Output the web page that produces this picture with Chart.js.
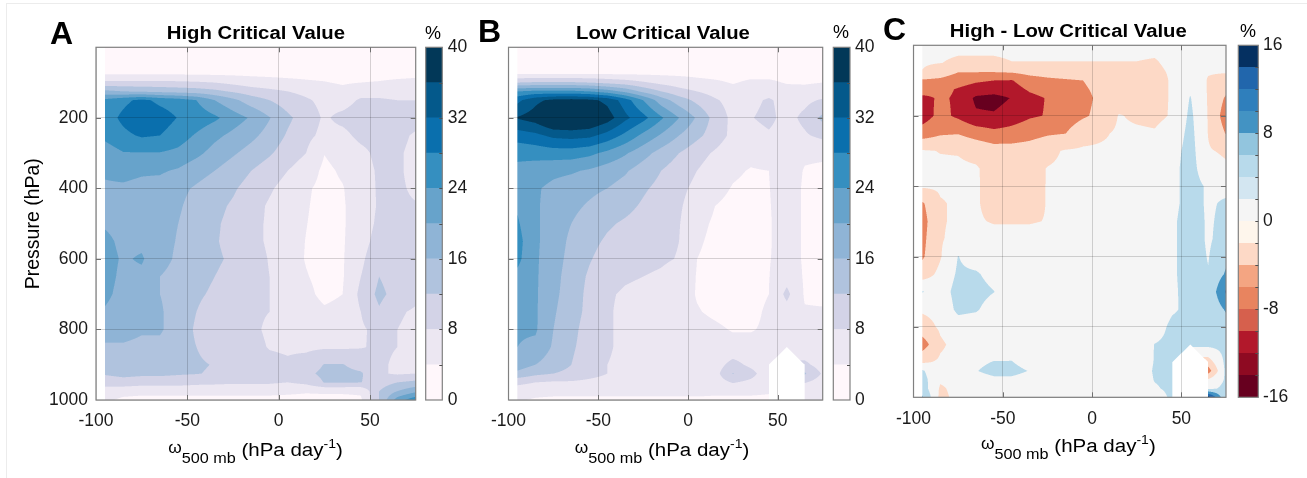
<!DOCTYPE html>
<html><head><meta charset="utf-8">
<script src="https://cdn.jsdelivr.net/npm/chart.js@4.4.1/dist/chart.umd.min.js"></script>
<style>
html,body{margin:0;padding:0;background:#fff;}
#page{position:relative;width:1307px;height:478px;overflow:hidden;background:#fff;}
canvas{position:absolute;top:0;}
#frame{position:absolute;left:6px;top:3px;right:-2px;bottom:-2px;border-left:1px solid #ececec;border-top:1px solid #ececec;}
svg{position:absolute;left:0;top:0;pointer-events:none;}
</style></head>
<body><div id="page">
<div id="frame"></div>
<canvas id="mainA" width="420" height="478" style="left:0px"></canvas>
<canvas id="barA" width="60" height="478" style="left:420px"></canvas>
<canvas id="mainB" width="346" height="478" style="left:480px"></canvas>
<canvas id="barB" width="60" height="478" style="left:826px"></canvas>
<canvas id="mainC" width="345" height="478" style="left:885px"></canvas>
<canvas id="barC" width="77" height="478" style="left:1230px"></canvas>
<svg width="1307" height="478" font-family="'Liberation Sans', Arial, Helvetica, sans-serif" fill="#000">
 <text x="50" y="44" font-size="32" font-weight="bold">A</text>
 <text x="478" y="42" font-size="32" font-weight="bold">B</text>
 <text x="883" y="39.5" font-size="32" font-weight="bold">C</text>
 <text transform="translate(255.9,39.3) scale(1.07,1)" text-anchor="middle" font-size="19" font-weight="bold">High Critical Value</text>
 <text transform="translate(663,39.3) scale(1.07,1)" text-anchor="middle" font-size="19" font-weight="bold">Low Critical Value</text>
 <text transform="translate(1068.3,37.3) scale(1.07,1)" text-anchor="middle" font-size="19" font-weight="bold">High - Low Critical Value</text>
 <text x="425" y="38.5" font-size="18">%</text>
 <text x="833" y="38" font-size="18">%</text>
 <text x="1240" y="36.5" font-size="18">%</text>
 <text transform="translate(38.5,223.7) rotate(-90)" text-anchor="middle" font-size="19.5">Pressure (hPa)</text>
 <text transform="translate(255.5,455.7) scale(1.08,1)" text-anchor="middle" font-size="19"><tspan font-size="16" dy="-3">ω</tspan><tspan font-size="15" dy="10">500 mb</tspan><tspan dy="-7"> (hPa day</tspan><tspan font-size="13" dy="-8">-1</tspan><tspan dy="8">)</tspan></text>
 <text transform="translate(662,455.7) scale(1.08,1)" text-anchor="middle" font-size="19"><tspan font-size="16" dy="-3">ω</tspan><tspan font-size="15" dy="10">500 mb</tspan><tspan dy="-7"> (hPa day</tspan><tspan font-size="13" dy="-8">-1</tspan><tspan dy="8">)</tspan></text>
 <text transform="translate(1068.4,451.7) scale(1.08,1)" text-anchor="middle" font-size="19"><tspan font-size="16" dy="-3">ω</tspan><tspan font-size="15" dy="10">500 mb</tspan><tspan dy="-7"> (hPa day</tspan><tspan font-size="13" dy="-8">-1</tspan><tspan dy="8">)</tspan></text>
</svg>
</div>
<script>
// ---------------- data ----------------
const omegaBins = [-95,-85,-75,-65,-55,-45,-35,-25,-15,-5,5,15,25,35,45,55,65,75];
const pressureLevels = [1,50,75,100,125,150,200,250,300,350,400,450,500,550,600,650,700,750,800,850,900,925,950,975,1000];
const omegaTicks = [-100,-50,0,50];
const pressureTicks = [200,400,600,800,1000];
const pctTicks = [0,8,16,24,32,40];
const diffTicks = [-16,-8,0,8,16];
const pctBandEdges = [0,4,8,12,16,20,24,28,32,36,40];
const diffBandEdges = [-16,-14,-12,-10,-8,-6,-4,-2,0,2,4,6,8,10,12,14,16];

// High critical value (%), rows = pressureLevels, cols = omegaBins
const highCritical = [
 [1.5,1.5,1.5,1.5,1.5,1.5,1.5,1.5,1.5,1.5,1.5,1.5,1.5,1.5,1.5,1.5,1.5,1.5],
 [2,2,2,2,2,2,2,2,2,2,2,2,2,2,2,2,2,2],
 [3.6,3.6,3.6,3.6,3.6,3.5,3.4,3.3,3.2,3.1,3,3,2.8,2.8,3,3,3.1,3.3],
 [9,9,9,9,8.8,8.5,8,7,6,5.5,5,4.5,4.2,3.6,4,4.2,4.6,4.8],
 [17,16,15.5,15,14.5,14,13,11.5,10,9,8,7,6,5,6.5,6.5,6.2,6.5],
 [25,27,29,27,26,24,20,17,14,12,10,8.5,7,6.5,8.5,8.5,8,8],
 [26,29,31.5,30,27.8,26.5,24.8,22,19.5,16.2,12.8,10,7.5,9,10,10,10,9.5],
 [25,27,28.5,28,26,23.5,21,19,17,14.5,11.5,9,7,7,9,9.5,9,7.5],
 [22,23.8,23.8,23.8,23,21,18.5,16.5,14.5,12.5,10,8,4.1,5.5,7,9,8.5,7],
 [20.5,21,20.5,20.5,19.5,17.5,16,14,12,10,8,6,3.2,4.5,6.5,8.5,8.5,7],
 [19.5,19.5,19,18.5,17,15.5,14,12.5,10.5,8.5,6.5,4.5,3,3.8,6,8.5,8.5,7.5],
 [19,18.5,18.5,17.5,16.5,14.5,13,11.5,9.5,7.5,6,4.3,2.8,3.7,5.5,8.5,8.5,8.2],
 [19.5,18.5,18.5,17,16,14,12.5,11,9,7.5,5.5,4.1,2.7,3.7,5.5,9,9,8.5],
 [21,19,19,17,15.8,13.5,12.3,11,9,7.5,5.5,3.9,2.7,3.7,6,10,9.5,9],
 [21.5,19.5,20.5,17,15.5,13.5,12.5,11.5,9.5,7.8,5.5,3.8,2.8,3.7,7,11.5,9.5,9.5],
 [21.5,19,19,16,15,13,12,11,9.5,8,6,4.2,3,3.7,8,12,10,9.5],
 [21,18.5,18,16,14.5,12.5,11.5,10.5,9,8,6.5,4.8,3.2,4,9,13,10.5,9],
 [19.5,18,17.5,16.5,14,12,10.5,9.5,8.5,8,7,5.5,4.5,5,8,11.5,8.5,7.5],
 [17.5,17.5,16.5,16.5,14,11.5,10,9,8.6,7.5,6.5,6.2,6,6.5,7.5,9,8,7],
 [15.5,15.5,15,15,13.5,12,10.5,9.5,9,7.8,7.5,7.3,7.5,7.5,7.8,8.5,8,7],
 [13.5,14.5,14,14,13,12.5,11.8,10.5,9.5,9,8.5,9.5,12.2,12.2,10.5,8.5,7.5,6.5],
 [12.5,13.5,13,13,12.5,12.2,11.5,10.5,9.5,9,8.5,11,13,13,12.5,8.5,7.5,8],
 [9.5,10,9.5,9.5,9.5,9,8.8,8.5,8.5,8.5,8,9,12.2,12.2,12.1,10,12,13],
 [6.5,5.8,5.5,5.5,5.5,5.5,5.5,5.5,5.5,5.5,5,4.5,4.5,4.5,4.5,12,16,19],
 [5,3,2.5,2.5,2.5,2.5,2.5,2.5,2.5,2.5,2.5,2.5,3,3,3.5,12,22,27]
];

// Low critical value (%), null = no data
const lowCritical = [
 [1.5,1.5,1.5,1.5,1.5,1.5,1.5,1.5,1.5,1.5,1.5,1.5,1.5,1.5,1.5,1.5,1.5,1.5],
 [2,2,2,2,2,2,2,2,2,2,2,2,2,2,2,2,2,2],
 [3.8,3.8,3.8,3.8,3.8,3.7,3.6,3.5,3.4,3.3,3.2,3,3,3.2,3.2,3,3,3],
 [12,12.5,12.5,12.5,12,11,10,8.5,7,6,5,4.5,3.8,4.5,4.5,3.8,3.7,4],
 [24,25,25,25,24,22,19,15,12,9.5,8,6.5,5,5.5,6.5,5,5,5.5],
 [31,35,37,37.5,37,35,30,24,18,14,11,8.5,6.5,7,8.5,6.5,7,8.5],
 [36.3,38,42,42,41,38,33,29.3,24.6,20,15.5,10.5,7,7.8,9,6.6,9,13],
 [30,31,33,33.5,33,30.5,27,23,19.5,16,13,10,7,6.5,7.5,6.3,7.5,9],
 [25,25.5,26,26,25,23,20.5,17.5,14.5,12,9.5,7.5,5.5,4.8,5.5,5.8,4.5,4.5],
 [23,22,21,20.5,19.5,18,16.5,14,12,10,8,6,4.5,3.8,4,5.5,3.8,3.5],
 [23,20.5,19,18,17,16,14.5,12.5,11,9,7,5,3.8,3.3,3.9,5.5,3.6,3.3],
 [23.5,20.5,18.5,17,15.5,14,13,11.5,10,8.5,6,4,3.2,3,3.8,5.5,3.6,3.3],
 [24.5,20.5,18.5,16,14,12.5,11.5,10.5,9.5,8.2,5,3.5,3,2.9,3.7,5.5,3.6,3.3],
 [25.5,20.5,18.5,15,13,11.5,10.5,10,9,8,4.5,3.2,2.8,2.8,3.7,5.5,3.6,3.3],
 [25,20.5,18,14.5,12.3,10.5,9.5,9,8.5,7.8,4,3,2.8,3,3.8,5.5,3.6,3.3],
 [23,20.5,17.5,14,11.5,9.5,8.5,8,7.5,6.5,3.8,3,2.8,3,3.9,6.5,3.6,3.3],
 [22,20.5,17,14,11,8.5,7.5,7,6.5,5.5,3.8,3,2.8,3,4,9,3.6,3.3],
 [21,20.5,16.5,13.5,11,8.5,7,6.5,6,5,4.2,3.5,3,3.2,4.5,6.5,4.3,4.3],
 [20.5,20.5,16,13,10.5,8.5,7,6.5,6,5.5,5,4.5,3.8,3.8,4.5,5,4.5,4.5],
 [20,19,15.5,12.5,10.5,8.5,7,6.5,6,5.8,5.5,5,5,5,5,5,5,4.8],
 [18,16,14,12,10,8,7,6.5,6,6,5.8,6,9.5,7,5,null,9,6],
 [15,13,12,11,9.5,8,7,6.5,6,6,6,6.5,12.2,9.5,5,null,12.5,7.5],
 [9,8,7.5,7.5,7,6.5,6.5,6,6,6,6,6,8.3,7,5.5,null,8.3,6],
 [6,5.5,5.5,5.5,5.5,5.5,5.5,5.5,5.5,5.5,5.5,5,5,5,4.5,null,5,5],
 [4.5,3.5,3,3,3,3,3,3,3,3,3,3,3,3,3,null,4,4.5]
];

// High - Low critical value (%), null = no data
const highMinusLow = [
 [0.5,0.5,0.5,0.5,0.5,0.5,0.5,0.5,0.5,0.5,0.5,0.5,0.5,0.5,0.5,0.5,0.5,0.5],
 [0.3,0.05,-0.35,-0.35,-0.35,-0.05,-0.05,-0.05,-0.05,-0.05,-0.05,-0.05,-0.05,-0.2,0.5,0.5,0.5,0.5],
 [-0.1,-1.5,-3.8,-3.8,-3.8,-3.5,-2.5,-2,-1.5,-1.2,-1,-1,-1,-0.5,0.3,0.8,0.3,0.3],
 [-4.5,-5,-6.5,-7.5,-8,-8.2,-6,-5,-4.5,-4,-2.5,-2,-1.5,-1,0.3,3,-0.3,-1.5],
 [-6,-7,-8.3,-9.5,-10,-9.5,-7.5,-6.5,-5.5,-4.5,-3,-2.5,-1.5,-1,0.3,3.5,-0.3,-3],
 [-9,-7.5,-8.5,-12.8,-13.5,-11.8,-9,-7.8,-6,-5,-3.2,-2,-1,-1,0.3,4.2,-0.3,-4.5],
 [-10,-6.8,-8.8,-11.4,-11.5,-10,-8.5,-7.8,-6,-4.5,-3,0.2,-0.5,-0.8,0.3,4.8,-0.2,-6],
 [-6,-4.5,-4.2,-5.7,-6.9,-6.5,-5.5,-4.5,-4.1,-1.5,-0.5,0.5,0.5,0.3,1.5,5.2,-0.1,-4.2],
 [0.3,-0.1,-0.2,-1,-2.1,-2.2,-2,-0.8,0.3,0.5,0.5,0.5,0.5,0.8,2.5,5.5,0.3,-0.5],
 [0.5,0.5,0.5,0.3,-1.2,-1.2,-1,0.1,0.5,0.5,0.5,0.5,0.5,1,3,5.5,1.5,0.5],
 [0.5,0.5,0.5,0.3,-1,-1,-0.8,0.1,0.5,0.5,0.5,0.5,0.5,1,3,5.5,3.5,3],
 [-4.5,-0.3,0.5,0.3,-1,-1,-0.8,0.1,0.5,0.5,0.5,0.5,0.5,1,3,5.5,3.5,4.5],
 [-5.5,-0.3,0.5,0.3,-0.2,-0.2,-0.2,0.1,0.5,0.5,0.5,0.5,0.5,1,3.3,6,3.5,5],
 [-5,-0.3,1,1,1,1,1,1,1,1,1,1,1,1,3.3,6,3.5,5.5],
 [-4.5,-0.3,4.1,2,1.5,1,1,1,1,1,1,1,1,1,3.3,6,3.8,7],
 [-2,1,4.6,4.5,2.5,1,1,1,1,1,1,1,1,1,3.3,6,4.2,8.5],
 [4.2,2,5.5,5.5,4.1,1.5,1,1,1,1,1,1,1,1,3.3,5.5,4.5,12.5],
 [0.5,1,5,4.5,2,1,1,1,1,1,1,1,1,1.5,3.5,5,4.5,8.5],
 [-1.5,0.5,2,1.5,1,1,1,1,1,1,1,1,1,2,5,5,5,6],
 [-6,-0.5,1,1,1,1.5,1,1,1,1,1,1,1,4.1,5,5,5,5],
 [-0.5,0.5,1,3,4.2,4.2,2,1,1,1,1,1,1,4.2,5,null,-2,5],
 [4.5,0.5,1,3.8,5.5,5.5,3.8,1,1,1,1,1,1,4.5,5,null,-6,5],
 [5.5,0.5,1,2,3,3,2,1,1,1,1,1,1,4.2,5,null,0.5,4.5],
 [6,-0.5,1,1,1,1,1,1,1,1,1,1,1,3.5,5,null,3,5],
 [8.5,-1,1,1,1,1,1,1,1,1,1,1,1,1.5,5,null,18,4]
];

// colour maps
const pctColors = ['#fff7fb','#ece7f2','#d3d3e7','#b0c3de','#8fb4d6','#67a3cb','#358fc0','#0a6fad','#04598b','#023858'];
const diffColors = ['#67001f','#8e0a22','#b2182b','#d6604d','#e8845f','#f4a582','#fdd9c6','#fef6ec','#f5f5f5','#d3e6f1','#b8daeb','#92c5de','#4393c3','#2f7fbc','#2166ac','#053061'];

// ---------------- rendering ----------------
const FONT = "'Liberation Sans', Arial, Helvetica, sans-serif";
Chart.defaults.font.family = FONT;
const tickFont = {family: FONT, size: 17.5};
const tickColor = '#1a1a1a';
const gridColor = 'rgba(0,0,0,0.16)';

function hexToRgb(h){ return [parseInt(h.slice(1,3),16), parseInt(h.slice(3,5),16), parseInt(h.slice(5,7),16)]; }

function makeSampler(grid, spec){
  const nx = omegaBins.length, ny = pressureLevels.length;
  const rgb = spec.colors.map(hexToRgb);
  const n = spec.colors.length;
  const isNum = v => v !== null && v !== undefined;
  return function(w, p){
    if (w < omegaBins[0]) return null;
    if (w > omegaBins[nx-1]) w = omegaBins[nx-1];
    if (p < pressureLevels[0]) p = pressureLevels[0];
    if (p > pressureLevels[ny-1]) p = pressureLevels[ny-1];
    let i = 0; while (i < nx-2 && omegaBins[i+1] <= w) i++;
    let j = 0; while (j < ny-2 && pressureLevels[j+1] <= p) j++;
    const fx = (w - omegaBins[i])/(omegaBins[i+1]-omegaBins[i]);
    const fy = (p - pressureLevels[j])/(pressureLevels[j+1]-pressureLevels[j]);
    // corners indexed by (cx, cy)
    const c = [[grid[j][i], grid[j+1][i]], [grid[j][i+1], grid[j+1][i+1]]];
    let missing = [];
    for (let cx = 0; cx < 2; cx++) for (let cy = 0; cy < 2; cy++) if (!isNum(c[cx][cy])) missing.push([cx, cy]);
    let v;
    if (missing.length === 0){
      v = c[0][0]*(1-fx)*(1-fy) + c[1][0]*fx*(1-fy) + c[0][1]*(1-fx)*fy + c[1][1]*fx*fy;
    } else if (missing.length === 1){
      // keep the triangle opposite the missing corner
      const [mx, my] = missing[0];
      const ox = 1-mx, oy = 1-my;
      const u = Math.abs(fx - ox), t = Math.abs(fy - oy);
      if (u + t > 1) return null;
      const vO = c[ox][oy], vX = c[mx][oy], vY = c[ox][my];
      v = vO + u*(vX - vO) + t*(vY - vO);
    } else {
      return null;
    }
    let lk = Math.floor((v - spec.levelStart)/spec.levelStep + 1e-9);
    if (lk < 0) lk = 0;
    const L = spec.levelStart + lk*spec.levelStep;
    let idx = Math.floor((L - spec.cmin)/(spec.cmax - spec.cmin)*n + 1e-9);
    idx = Math.max(0, Math.min(n-1, idx));
    return rgb[idx];
  };
}

function makeContourPlugin(grid, spec){
  const sample = makeSampler(grid, spec);
  return {
    id: 'contourFill',
    beforeDraw(chart){
      const {ctx, chartArea: a, scales} = chart;
      const xs = scales.x, ys = scales.y, S = 3;
      const x0 = Math.floor(a.left), y0 = Math.floor(a.top);
      const W = Math.ceil(a.right) - x0, H = Math.ceil(a.bottom) - y0;
      const wv = new Float64Array(W*S), pv = new Float64Array(H*S);
      for (let i = 0; i < W*S; i++){ const px = x0 + (i+0.5)/S; wv[i] = (px < a.left || px > a.right) ? NaN : xs.getValueForPixel(px); }
      for (let j = 0; j < H*S; j++){ const py = y0 + (j+0.5)/S; pv[j] = (py < a.top || py > a.bottom) ? NaN : ys.getValueForPixel(py); }
      const off = document.createElement('canvas'); off.width = W; off.height = H;
      const octx = off.getContext('2d'); const img = octx.createImageData(W, H); const d = img.data;
      for (let j = 0; j < H; j++){
        for (let i = 0; i < W; i++){
          let r = 0, g = 0, b = 0, cnt = 0;
          for (let sy = 0; sy < S; sy++){
            const p = pv[j*S+sy]; if (isNaN(p)) continue;
            for (let sx = 0; sx < S; sx++){
              const w = wv[i*S+sx]; if (isNaN(w)) continue;
              const col = sample(w, p); if (!col) continue;
              r += col[0]; g += col[1]; b += col[2]; cnt++;
            }
          }
          const o = (j*W+i)*4;
          if (cnt > 0){ d[o] = r/cnt; d[o+1] = g/cnt; d[o+2] = b/cnt; d[o+3] = Math.round(255*cnt/(S*S)); }
        }
      }
      octx.putImageData(img, 0, 0);
      ctx.drawImage(off, x0, y0);
    }
  };
}

const mainFrame = {
  id: 'mainFrame',
  afterDraw(chart){
    const {ctx, chartArea: a, scales} = chart;
    ctx.save();
    ctx.strokeStyle = '#808080'; ctx.lineWidth = 1.2;
    ctx.strokeRect(a.left, a.top, a.right - a.left, a.bottom - a.top);
    ctx.lineWidth = 1; ctx.strokeStyle = '#707070';
    ctx.beginPath();
    omegaTicks.forEach(v => {
      const x = Math.round(scales.x.getPixelForValue(v)) + 0.5;
      if (x <= a.left + 1 || x >= a.right - 1) return;
      ctx.moveTo(x, a.bottom); ctx.lineTo(x, a.bottom - 5);
      ctx.moveTo(x, a.top); ctx.lineTo(x, a.top + 5);
    });
    pressureTicks.forEach(v => {
      const y = Math.round(scales.y.getPixelForValue(v)) + 0.5;
      if (y <= a.top + 1 || y >= a.bottom - 1) return;
      ctx.moveTo(a.left, y); ctx.lineTo(a.left + 5, y);
      ctx.moveTo(a.right, y); ctx.lineTo(a.right - 5, y);
    });
    ctx.stroke();
    ctx.restore();
  }
};

function makeMain(id, grid, spec, L){
  new Chart(document.getElementById(id), {
    type: 'scatter',
    data: {datasets: [{data: [], pointRadius: 0}]},
    options: {
      responsive: false, animation: false, events: [],
      layout: {padding: {left: 0, right: L.padR, top: L.top, bottom: 0}},
      plugins: {legend: {display: false}, tooltip: {enabled: false}},
      scales: {
        x: {type: 'linear', min: -100, max: 75,
            afterBuildTicks: s => { s.ticks = omegaTicks.map(v => ({value: v})); },
            afterFit: s => { s.height = L.xH; },
            grid: {color: gridColor, lineWidth: 1, drawTicks: false},
            border: {display: false},
            ticks: {font: tickFont, color: tickColor, padding: 11, maxRotation: 0, autoSkip: false, callback: v => String(v)}},
        y: {type: 'linear', reverse: true, min: 0, max: 1000,
            afterBuildTicks: s => { s.ticks = pressureTicks.map(v => ({value: v})); },
            afterFit: s => { s.width = L.yW; },
            grid: {color: gridColor, lineWidth: 1, drawTicks: false},
            border: {display: false},
            ticks: {display: L.showY, font: tickFont, color: tickColor, padding: 8, autoSkip: false, callback: v => String(v)}}
      }
    },
    plugins: [makeContourPlugin(grid, spec), mainFrame]
  });
}

function colorbarFrame(edges){
  return {
    id: 'cbFrame',
    afterDraw(chart){
      const {ctx, chartArea: a, scales} = chart;
      ctx.save();
      ctx.strokeStyle = '#808080'; ctx.lineWidth = 1.2;
      ctx.strokeRect(a.left, a.top, a.right - a.left, a.bottom - a.top);
      ctx.strokeStyle = '#505050'; ctx.lineWidth = 1;
      ctx.beginPath();
      edges.slice(1, -1).forEach(v => {
        const y = Math.round(scales.y.getPixelForValue(v)) + 0.5;
        ctx.moveTo(a.right, y); ctx.lineTo(a.right - 3, y);
      });
      ctx.stroke();
      ctx.restore();
    }
  };
}

function makeColorbar(id, edges, colors, ticks, L){
  const datasets = colors.map((c, k) => ({data: [[edges[k], edges[k+1]]], backgroundColor: c, borderWidth: 0, barPercentage: 1, categoryPercentage: 1, grouped: false}));
  new Chart(document.getElementById(id), {
    type: 'bar',
    data: {labels: ['%'], datasets},
    options: {
      responsive: false, animation: false, events: [],
      layout: {padding: {left: L.padL, right: 0, top: L.top, bottom: L.bottom}},
      plugins: {legend: {display: false}, tooltip: {enabled: false}},
      scales: {
        x: {display: false},
        y: {position: 'right', min: edges[0], max: edges[edges.length-1],
            afterBuildTicks: s => { s.ticks = ticks.map(v => ({value: v})); },
            afterFit: s => { s.width = L.yW; },
            grid: {display: false, drawTicks: false}, border: {display: false},
            ticks: {font: tickFont, color: tickColor, padding: L.pad, autoSkip: false, callback: v => String(v)}}
      }
    },
    plugins: [colorbarFrame(edges)]
  });
}

const pctSpec = {levelStart: 0, levelStep: 4, cmin: 0, cmax: 40, colors: pctColors};
const diffSpec = {levelStart: -16, levelStep: 4, cmin: -16, cmax: 16, colors: diffColors};

makeMain('mainA', highCritical, pctSpec, {top: 47.3, padR: 4.3, xH: 78, yW: 96, showY: true});
makeMain('mainB', lowCritical, pctSpec, {top: 47.3, padR: 3.3, xH: 78, yW: 23.3, showY: false});
makeMain('mainC', highMinusLow, diffSpec, {top: 45.3, padR: 4, xH: 80.7, yW: 25.7, showY: false});
makeColorbar('barA', pctBandEdges, pctColors, pctTicks, {padL: 5.7, top: 47.3, bottom: 78, yW: 37.7, pad: 5.5});
makeColorbar('barB', pctBandEdges, pctColors, pctTicks, {padL: 7.3, top: 47.3, bottom: 78, yW: 36, pad: 5});
makeColorbar('barC', diffBandEdges, diffColors, diffTicks, {padL: 8.3, top: 45.3, bottom: 80.7, yW: 48.7, pad: 4.7});
</script>
</body></html>
